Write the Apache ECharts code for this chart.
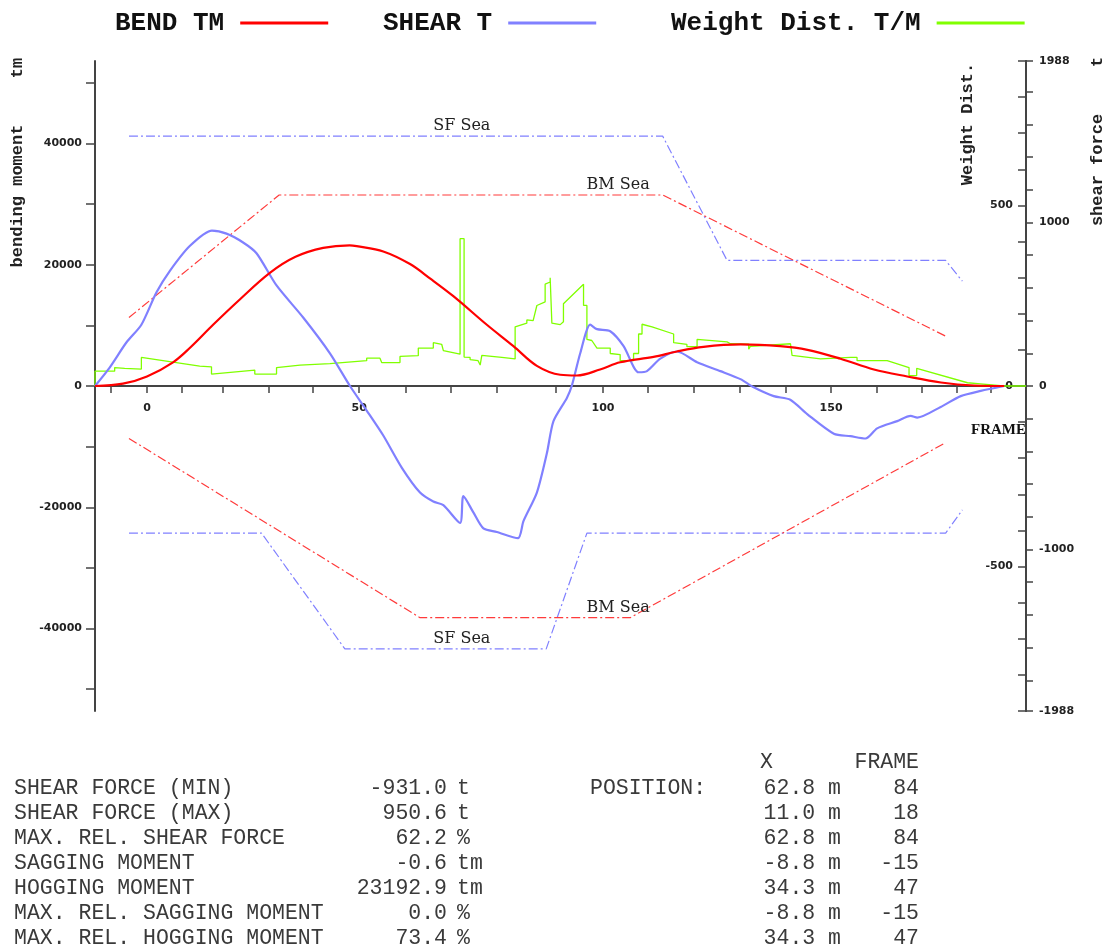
<!DOCTYPE html>
<html><head><meta charset="utf-8">
<script src="https://cdn.jsdelivr.net/npm/echarts@6/dist/echarts.min.js"></script>
<style>html,body{margin:0;padding:0;background:#fff}#chart{width:1104px;height:950px}</style>
</head><body><div id="chart"></div>
<script>
// ---- x axis: position along ship (m), ticks labelled with frame numbers ----
const frameTicks   = [-10,0,10,20,30,40,50,60,70,80,90,100,110,120,130,140,150,160,170,180,190];
const frameTickPos = [-6.2,0,5.83,12.78,20.63,28.14,35.93,43.85,51.47,59.27,69.27,77.19,84.7,92.5,100.3,108.1,115.8,123.5,131.2,137.1,142.9];
const frameLabels  = [0,50,100,150];
const xMin = -8.8, xMax = 148.8;

// ---- y axes ----
const bmRange = 53600;
const bmTicks  = [-50000,-40000,-30000,-20000,-10000,0,10000,20000,30000,40000,50000];
const bmLabels = [-40000,-20000,0,20000,40000];
const wdRange = 900;
const wdTicks  = [-900,-800,-700,-600,-500,-400,-300,-200,-100,0,100,200,300,400,500,600,700,800,900];
const wdLabels = [-500,0,500];
const sfRange = 1988;
const sfTicks  = [-1988,-1800,-1600,-1400,-1200,-1000,-800,-600,-400,-200,0,200,400,600,800,1000,1200,1400,1600,1800,1988];
const sfLabels = [-1988,-1000,0,1000,1988];

// ---- bending moment (tm) [x m, value] ----
const bendMoment = [[-8.8,-0.6],[-4.07,380],[0,1570],[4.41,3910],[7.24,6270],[11.19,10100],[15.71,14270],[20.8,18650],[25.14,21300],[29.83,22770],[34.3,23193],[35.49,23070],[40.0,22190],[44.53,20110],[47.9,17750],[51.86,14820],[57.53,10100],[62.03,6570],[66.0,3320],[69.95,1850],[72.78,1730],[76.7,2720],[80.1,3910],[85.76,4800],[89.7,5690],[94.2,6450],[100.5,6850],[107.2,6570],[111.8,5970],[117.4,4500],[123.05,2720],[128.7,1570],[134.4,580],[140.0,80],[145.1,0]];

// ---- shear force (t) ----
const shearForce = [[-8.8,0],[-6.32,113],[-3.49,266],[-0.95,375],[1.59,572],[3.85,703],[7.24,856],[11.0,950.6],[13.46,932],[16.27,878],[18.54,812],[21.93,615],[26.44,419],[30.97,200],[34.36,0],[37.19,-150],[40.0,-303],[43.12,-499],[46.22,-652],[48.47,-707],[50.17,-729],[53.0,-838],[53.56,-674],[55.25,-773],[56.95,-871],[59.22,-893],[62.8,-931],[63.73,-827],[66.0,-652],[67.69,-412],[68.81,-215],[71.08,-73],[71.93,3],[73.34,200],[75.03,375],[76.17,348],[78.42,335],[80.68,244],[83.22,84],[84.64,91],[86.9,167],[89.73,211],[93.12,145],[97.07,91],[100.46,42],[102.7,-8],[106.1,-62],[108.9,-84],[111.76,-172],[116.27,-292],[119.1,-307],[121.64,-321],[123.6,-259],[127.0,-215],[129.27,-183],[130.4,-193],[134.36,-128],[137.75,-62],[141.14,-30],[145.08,0]];

// ---- weight distribution (t/m), stepped ----
const weightDist = [[-8.8,0],[-8.8,41],[-5.47,41],[-5.47,51],[-3.78,49],[-3.78,47],[-0.95,47],[-0.95,79],[6.95,60],[6.95,55],[8.93,55],[8.93,53],[10.92,53],[10.92,33],[18.25,44],[18.25,33],[21.93,33],[21.93,51],[25.9,58],[30.97,62],[37.19,70],[37.19,77],[39.44,77],[39.73,65],[42.83,65],[42.83,82],[45.93,84],[45.93,105],[48.47,105],[48.47,120],[49.9,115],[50.17,98],[53.0,88],[53.0,408],[53.68,408],[53.68,80],[54.7,79],[54.7,73],[56.05,70],[56.4,58],[56.68,85],[60.07,79],[62.32,75],[62.32,164],[64.3,174],[64.3,183],[65.37,181],[66.0,223],[67.4,233],[67.4,282],[68.25,288],[68.25,300],[68.54,300],[68.54,174],[69.95,170],[70.5,178],[70.5,228],[73.9,282],[73.9,223],[74.47,223],[74.47,129],[75.3,126],[76.17,105],[78.42,105],[78.42,90],[80.1,87],[80.1,70],[82.37,70],[82.37,90],[83.22,90],[83.22,144],[83.8,144],[83.8,171],[85.5,164],[89.15,144],[89.15,120],[91.4,115],[91.4,109],[93.12,109],[93.12,129],[98.2,122],[98.76,117],[101.86,116],[101.86,102],[102.15,102],[102.15,110],[108.93,117],[109.2,117],[109.2,85],[114,75],[114,72],[119.1,79],[120.2,79],[120.2,70],[124.7,70],[124.7,66],[125.3,70],[129,51],[129,29],[130.3,29],[130.3,49],[138.9,9],[141.1,6],[145,0],[148.8,0]];

// ---- sea-going limits ----
const sfSeaUpper = [[-3.05,1529],[87.29,1529],[98.2,768],[135.2,768],[138.03,641]];
const sfSeaLower = [[-3.05,-900],[19.39,-900],[33.5,-1608],[67.58,-1608],[74.47,-900],[135.2,-900],[138.03,-758]];
const bmSeaUpper = [[-3.05,11290],[22.37,31500],[87.29,31500],[135.2,8220]];
const bmSeaLower = [[-3.05,-8650],[46.22,-38210],[81.81,-38210],[135.2,-9340]];
const sfSeaLabelX = 53.3, bmSeaLabelX = 79.75;

// ---- summary table ----
const tableLabels = ['SHEAR FORCE (MIN)','SHEAR FORCE (MAX)','MAX. REL. SHEAR FORCE','SAGGING MOMENT','HOGGING MOMENT','MAX. REL. SAGGING MOMENT','MAX. REL. HOGGING MOMENT'];
const tableValues = ['-931.0','950.6','62.2','-0.6','23192.9','0.0','73.4'];
const tableUnits  = ['t','t','%','tm','tm','%','%'];
const tableX      = ['62.8','11.0','62.8','-8.8','34.3','-8.8','34.3'];
const tableFrames = ['84','18','84','-15','47','-15','47'];

const RED = '#ff0000', BLUE = '#8080ff', GREEN = '#80ff00', SEARED = '#ff3b3b';
const axisCol = '#444';
const tickFont = {fontFamily:'DejaVu Sans', fontWeight:'bold', fontSize:11, color:'#222'};
const mono = 'Liberation Mono';
const gridTop = 61, gridBottom = 239, chartH = 950;
const gridH = chartH - gridTop - gridBottom;

const chart = echarts.init(document.getElementById('chart'), null, {renderer:'canvas'});

const legendBase = {
  align:'right', icon:'rect', itemWidth:88, itemHeight:3, selectedMode:false, top:5,
  textStyle:{fontFamily:mono, fontWeight:'bold', fontSize:26, color:'#111', padding:[0,11,0,0]}
};

const seaLine = (name, data, yIdx, color, label) => ({
  name, type:'line', data, yAxisIndex:yIdx, showSymbol:false, silent:true, z:2,
  lineStyle:{color, width:1.2, type:[9,3,2,3]},
  markPoint: label ? {
    symbol:'circle', symbolSize:0, silent:true,
    label:{show:true, position:'top', distance:2, formatter:'{b}', fontFamily:'DejaVu Serif', fontSize:16, color:'#222'},
    data:[{name:label.text, coord:label.coord}]
  } : undefined
});

const graphics = [];
const rotText = (text, x, y) => ({type:'text', x, y, rotation:Math.PI/2,
  style:{text, fontFamily:mono, fontWeight:'bold', fontSize:17, fill:'#222', align:'center', verticalAlign:'middle'}});
graphics.push(rotText('tm', 18, 68));
graphics.push(rotText('bending moment', 18, 196));
graphics.push(rotText('Weight Dist.', 968, 124));
graphics.push(rotText('t', 1098, 62));
graphics.push(rotText('shear force', 1098, 170));

const tStyle = (text, align) => ({text, fontFamily:mono, fontSize:21.5, fill:'#3a3a3a', align, verticalAlign:'middle'});
graphics.push({type:'text', x:760, y:762, style:tStyle('X','left')});
graphics.push({type:'text', x:919, y:762, style:tStyle('FRAME','right')});
graphics.push({type:'text', x:590, y:788, style:tStyle('POSITION:','left')});
tableLabels.forEach((lab, i) => {
  const y = 788 + 25*i;
  graphics.push({type:'text', x:14, y, style:tStyle(lab,'left')});
  graphics.push({type:'text', x:447, y, style:tStyle(tableValues[i],'right')});
  graphics.push({type:'text', x:457, y, style:tStyle(tableUnits[i],'left')});
  graphics.push({type:'text', x:841, y, style:tStyle(tableX[i] + ' m','right')});
  graphics.push({type:'text', x:919, y, style:tStyle(tableFrames[i],'right')});
});

chart.setOption({
  animation:false,
  backgroundColor:'#fff',
  legend:[
    Object.assign({}, legendBase, {data:['BEND TM'], left:110}),
    Object.assign({}, legendBase, {data:['SHEAR T'], left:378}),
    Object.assign({}, legendBase, {data:['Weight Dist. T/M'], left:666})
  ],
  grid:{left:95, right:78, top:gridTop, bottom:gridBottom, containLabel:false},
  xAxis:{
    type:'value', min:xMin, max:xMax, position:'bottom', offset:-gridH/2,
    name:'FRAME', nameLocation:'end', nameGap:0,
    nameTextStyle:{fontFamily:'Liberation Serif', fontWeight:'bold', fontSize:15, color:'#111', align:'right', verticalAlign:'top', padding:[37,0,0,0]},
    axisLine:{onZero:false, lineStyle:{color:axisCol, width:2}},
    axisTick:{show:true, length:7, customValues:frameTickPos, lineStyle:{color:axisCol, width:1.5}},
    axisLabel:Object.assign({customValues:frameLabels.map(f => frameTickPos[frameTicks.indexOf(f)]),
      formatter:v => String(frameTicks[frameTickPos.indexOf(v)]), margin:17}, tickFont),
    splitLine:{show:false}
  },
  yAxis:[
    {type:'value', position:'left', min:-bmRange, max:bmRange,
     axisLine:{show:true, onZero:false, lineStyle:{color:axisCol, width:2}},
     axisTick:{show:true, length:9, customValues:bmTicks, lineStyle:{color:axisCol, width:1.5}},
     axisLabel:Object.assign({customValues:bmLabels, formatter:v => String(v), margin:13}, tickFont),
     splitLine:{show:false}},
    {type:'value', position:'right', min:-wdRange, max:wdRange,
     axisLine:{show:true, onZero:false, lineStyle:{color:axisCol, width:2}},
     axisTick:{show:true, inside:true, length:8, customValues:wdTicks, lineStyle:{color:axisCol, width:1.5}},
     axisLabel:Object.assign({inside:true, customValues:wdLabels, formatter:v => String(v), margin:13}, tickFont),
     splitLine:{show:false}},
    {type:'value', position:'right', min:-sfRange, max:sfRange,
     axisLine:{show:true, onZero:false, lineStyle:{color:axisCol, width:2}},
     axisTick:{show:true, length:7, customValues:sfTicks, lineStyle:{color:axisCol, width:1.5}},
     axisLabel:Object.assign({customValues:sfLabels, formatter:v => String(v), margin:13}, tickFont),
     splitLine:{show:false}}
  ],
  series:[
    seaLine('SF Sea upper', sfSeaUpper, 2, BLUE, {text:'SF Sea', coord:[sfSeaLabelX, sfSeaUpper[0][1]]}),
    seaLine('SF Sea lower', sfSeaLower, 2, BLUE, {text:'SF Sea', coord:[sfSeaLabelX, sfSeaLower[2][1]]}),
    seaLine('BM Sea upper', bmSeaUpper, 0, SEARED, {text:'BM Sea', coord:[bmSeaLabelX, bmSeaUpper[1][1]]}),
    seaLine('BM Sea lower', bmSeaLower, 0, SEARED, {text:'BM Sea', coord:[bmSeaLabelX, bmSeaLower[1][1]]}),
    {name:'Weight Dist. T/M', type:'line', data:weightDist, yAxisIndex:1, showSymbol:false, z:3,
     color:GREEN, lineStyle:{color:GREEN, width:1.3}},
    {name:'SHEAR T', type:'line', data:shearForce, yAxisIndex:2, showSymbol:false, smooth:0.25, z:4,
     color:BLUE, lineStyle:{color:BLUE, width:2.2}},
    {name:'BEND TM', type:'line', data:bendMoment, yAxisIndex:0, showSymbol:false, smooth:0.35, z:5,
     color:RED, lineStyle:{color:RED, width:2.2}}
  ],
  graphic:graphics
});
</script></body></html>
